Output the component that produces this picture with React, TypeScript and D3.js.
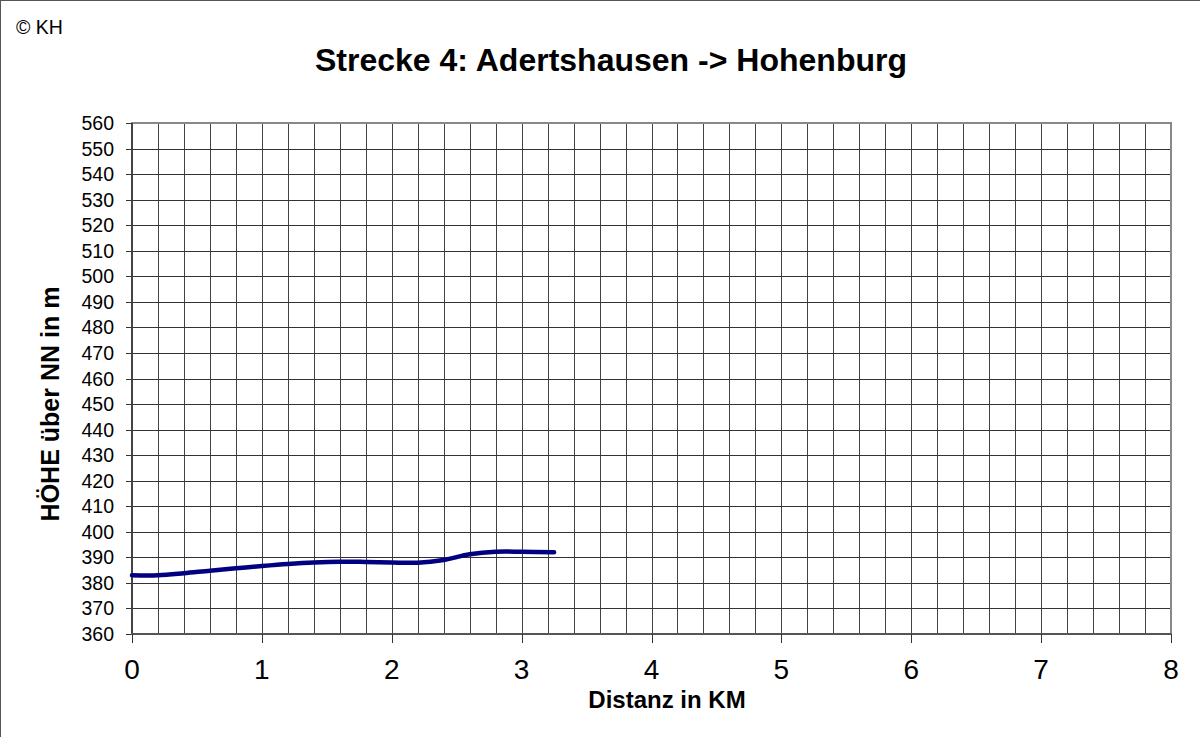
import React, { useEffect, useRef } from 'react'
import * as d3 from 'd3'

type Datum = { km: number, h: number }

// elevation profile
const distKm = [0, 0.2, 0.4, 0.6, 0.8, 1.0, 1.2, 1.4, 1.6, 1.8, 2.0, 2.2, 2.4, 2.6, 2.8, 3.0, 3.25]
const heightM = [383, 383, 383.8, 384.8, 385.7, 386.6, 387.4, 388, 388.3, 388.2, 388, 387.9, 389, 391.2, 392.2, 392.2, 392]

const xTicks = [0, 1, 2, 3, 4, 5, 6, 7, 8]
const yTicks = d3.range(360, 561, 10)
const xGrid = d3.range(0, 8.01, 0.2)

export default function App() {
    const d3Ref = useRef<SVGSVGElement>(null)

    useEffect(() => {
        const width = 1200
        const height = 737
        const margin = { top: 123, right: 29, bottom: 103, left: 132 }

        const svg = d3.select(d3Ref.current!)
        svg.selectAll('*').remove()
        svg.attr('width', width).attr('height', height)
            .style('font-family', 'Liberation Sans, Arial, sans-serif')

        svg.append('rect')
            .attr('x', 0.5).attr('y', 0.5)
            .attr('width', width + 10).attr('height', height + 10)
            .attr('fill', 'white').attr('stroke', '#555')

        const x = d3.scaleLinear().domain([0, 8]).range([margin.left, width - margin.right])
        const y = d3.scaleLinear().domain([360, 560]).range([height - margin.bottom, margin.top])

        const data: Datum[] = distKm.map((km, i) => ({ km, h: heightM[i] }))

        // grid
        svg.append('g').selectAll('line.v').data(xGrid).join('line')
            .attr('x1', d => Math.round(x(d)) + 0.5).attr('x2', d => Math.round(x(d)) + 0.5)
            .attr('y1', y(560)).attr('y2', y(360))
            .attr('stroke', '#444').attr('stroke-width', 1)
        svg.append('g').selectAll('line.h').data(yTicks).join('line')
            .attr('x1', x(0)).attr('x2', x(8))
            .attr('y1', d => Math.round(y(d)) + 0.5).attr('y2', d => Math.round(y(d)) + 0.5)
            .attr('stroke', '#333').attr('stroke-width', 1)

        // plot frame
        svg.append('rect')
            .attr('x', x(0)).attr('y', y(560))
            .attr('width', x(8) - x(0)).attr('height', y(360) - y(560))
            .attr('fill', 'none').attr('stroke', '#888').attr('stroke-width', 2)

        // y axis
        const yAxis = svg.append('g')
        yAxis.append('line')
            .attr('x1', x(0)).attr('x2', x(0)).attr('y1', y(560)).attr('y2', y(360) + 1)
            .attr('stroke', '#444').attr('stroke-width', 2)
        yAxis.selectAll('line.t').data(yTicks).join('line')
            .attr('x1', x(0) - 6).attr('x2', x(0))
            .attr('y1', d => Math.round(y(d)) + 0.5).attr('y2', d => Math.round(y(d)) + 0.5)
            .attr('stroke', '#333')
        yAxis.selectAll('text').data(yTicks).join('text')
            .attr('x', 114).attr('y', d => y(d) + 7)
            .attr('text-anchor', 'end').attr('font-size', 19.5)
            .text(d => d)

        // x axis
        const xAxis = svg.append('g')
        xAxis.append('line')
            .attr('x1', x(0) - 1).attr('x2', x(8)).attr('y1', y(360)).attr('y2', y(360))
            .attr('stroke', '#555').attr('stroke-width', 2)
        xAxis.selectAll('line.t').data(xTicks).join('line')
            .attr('x1', d => Math.round(x(d)) + 0.5).attr('x2', d => Math.round(x(d)) + 0.5)
            .attr('y1', y(360)).attr('y2', y(360) + 9)
            .attr('stroke', '#333')
        xAxis.selectAll('text').data(xTicks).join('text')
            .attr('x', d => x(d)).attr('y', 679)
            .attr('text-anchor', 'middle').attr('font-size', 28)
            .text(d => d)

        // profile line
        const line = d3.line<Datum>()
            .x(d => x(d.km))
            .y(d => y(d.h))
            .curve(d3.curveCatmullRom)
        svg.append('path')
            .datum(data)
            .attr('fill', 'none')
            .attr('stroke', '#000080')
            .attr('stroke-width', 4.5)
            .attr('stroke-linecap', 'round')
            .attr('d', line)

        // titles
        svg.append('text')
            .attr('x', 611).attr('y', 71)
            .attr('text-anchor', 'middle').attr('font-size', 31).attr('font-weight', 'bold')
            .attr('textLength', 592).attr('lengthAdjust', 'spacingAndGlyphs')
            .text('Strecke 4: Adertshausen -> Hohenburg')
        svg.append('text')
            .attr('x', 667).attr('y', 708)
            .attr('text-anchor', 'middle').attr('font-size', 24).attr('font-weight', 'bold')
            .text('Distanz in KM')
        svg.append('text')
            .attr('transform', 'translate(59,404) rotate(-90)')
            .attr('text-anchor', 'middle').attr('font-size', 25).attr('font-weight', 'bold')
            .text('HÖHE über NN in m')
        svg.append('text')
            .attr('x', 16).attr('y', 34)
            .attr('font-size', 19.5)
            .text('© KH')
    }, [])

    return (
        <div style={{ position: 'absolute', left: 0, top: 0 }}>
            <svg ref={d3Ref} style={{ display: 'block' }}></svg>
        </div>
    )
}
